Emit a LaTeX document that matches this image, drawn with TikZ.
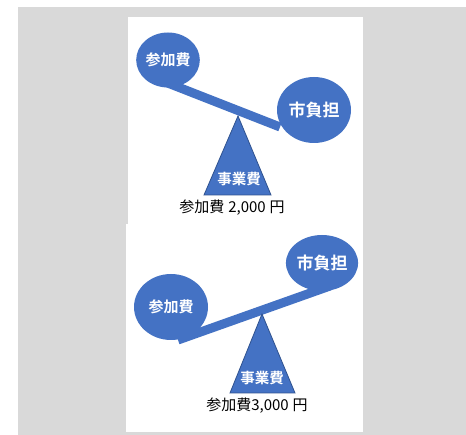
\documentclass[tikz,border=0pt]{standalone}
\usepackage{fontspec}
\setmainfont{Noto Sans CJK JP}[BoldFont={Noto Sans CJK JP Bold}]
\usetikzlibrary{shapes.geometric}
\definecolor{azul}{HTML}{4472C4}
\definecolor{azulosc}{HTML}{2F528F}
\definecolor{fondo}{HTML}{D9D9D9}

\begin{document}
\begin{tikzpicture}[x=1pt,y=-1pt,
  bola/.style={ellipse,fill=azul,inner sep=0pt,text=white},
  chica/.style={bola,minimum width=56pt,minimum height=55pt,font=\fontsize{15}{17}\selectfont\bfseries},
  grande/.style={bola,minimum width=74pt,minimum height=66pt,font=\fontsize{17}{19}\selectfont\bfseries},
  viga/.style={azul,line width=9pt},
  apoyo/.style={fill=azul,draw=azulosc,line width=0.8pt,line join=miter},
  rotulo/.style={text=white,inner sep=0pt,font=\fontsize{14.5}{16}\selectfont\bfseries},
  precio/.style={inner sep=0pt,font=\fontsize{15}{17}\selectfont}]
  \useasboundingbox (0,0) rectangle (466,435);
  % fondo y paneles
  \fill[fondo] (18,7) rectangle (466,435);
  \fill[white] (128,17) rectangle (363,224);
  \fill[white] (126,224) rectangle (363,432);

  % balanza 1: 2,000 yenes
  \coordinate (a1) at (160,80);
  \coordinate (b1) at (280,127);
  \draw[viga] (a1) -- (b1);
  \node[chica] (p1) at (168,60) {参加費};
  \node[grande] (m1) at (314,110) {市負担};
  \coordinate (c1) at (238,116);
  \coordinate (i1) at (204,195);
  \coordinate (d1) at (271,195);
  \filldraw[apoyo] (c1) -- (d1) -- (i1) -- cycle;
  \node[rotulo] (j1) at (239,179) {事業費};
  \node[precio] (t1) at (232,208) {参加費\hspace{4pt}2,000\hspace{4pt}円};

  % balanza 2: 3,000 yenes
  \coordinate (a2) at (178,340);
  \coordinate (b2) at (330,286);
  \draw[viga] (a2) -- (b2);
  \node[grande,font=\fontsize{15}{17}\selectfont\bfseries] (p2) at (171,307) {参加費};
  \node[chica,minimum width=56pt,minimum height=56pt,font=\fontsize{17}{19}\selectfont\bfseries] (m2) at (322,263) {市負担};
  \coordinate (c2) at (262,314);
  \coordinate (i2) at (230,393);
  \coordinate (d2) at (295,393);
  \filldraw[apoyo] (c2) -- (d2) -- (i2) -- cycle;
  \node[rotulo] (j2) at (262,378) {事業費};
  \node[precio] (t2) at (257,406) {参加費3,000\hspace{4pt}円};
\end{tikzpicture}
\end{document}
